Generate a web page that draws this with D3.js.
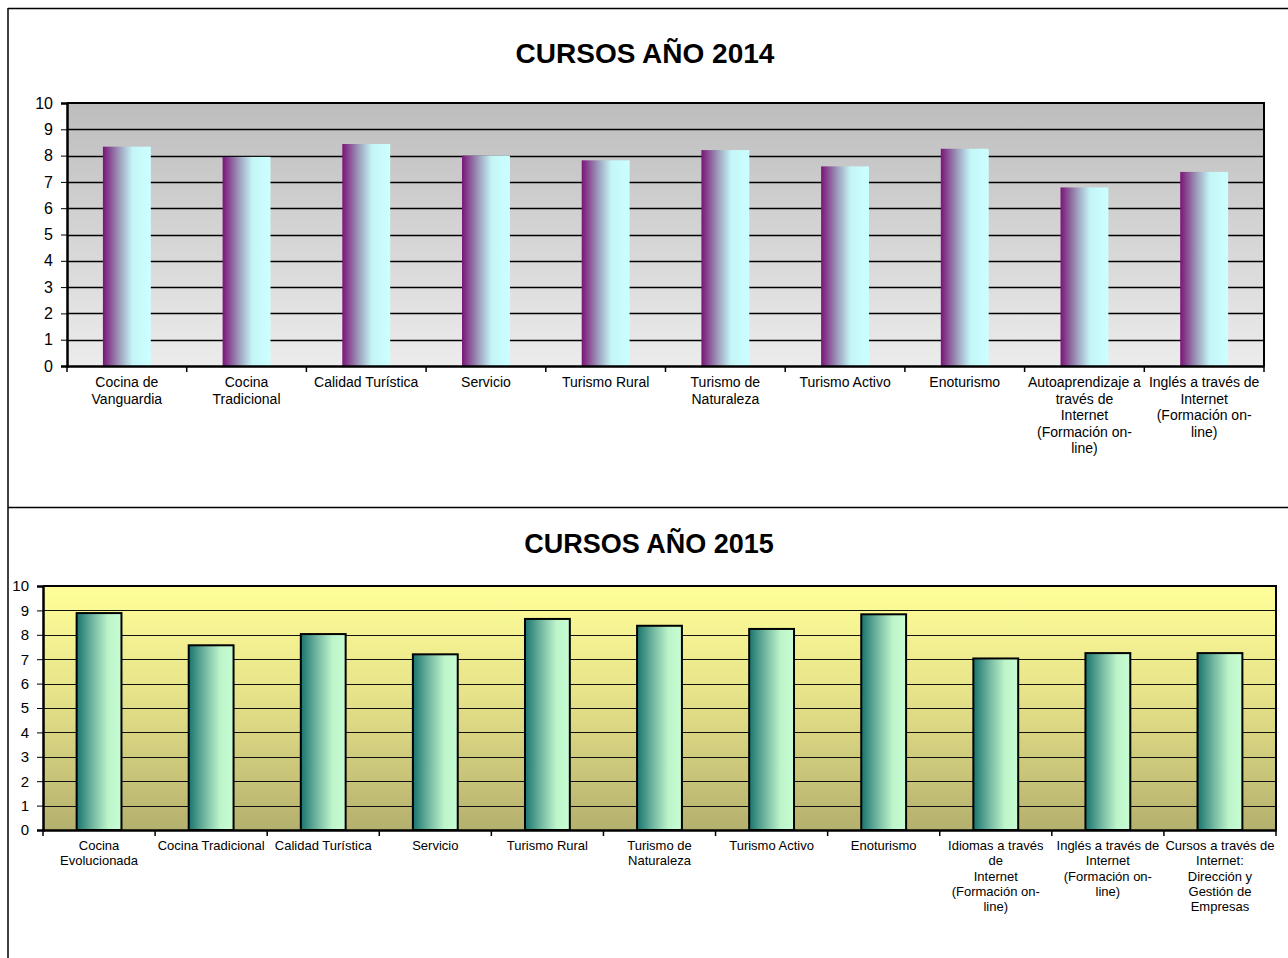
<!DOCTYPE html>
<html>
<head>
<meta charset="utf-8">
<script src="https://cdn.jsdelivr.net/npm/d3@7"></script>
<style>
  body { margin: 0; background: #fff; }
  text { font-family: "Liberation Sans", Arial, sans-serif; }
</style>
</head>
<body>
<svg id="chart" width="1288" height="958"></svg>
<script>
// data
var cats2014 = [
  "Cocina de\nVanguardia",
  "Cocina\nTradicional",
  "Calidad Turística",
  "Servicio",
  "Turismo Rural",
  "Turismo de\nNaturaleza",
  "Turismo Activo",
  "Enoturismo",
  "Autoaprendizaje a\ntravés de\nInternet\n(Formación on-\nline)",
  "Inglés a través de\nInternet\n(Formación on-\nline)"
];
var vals2014 = [8.34, 7.95, 8.44, 8.0, 7.82, 8.21, 7.59, 8.26, 6.79, 7.38];

var cats2015 = [
  "Cocina\nEvolucionada",
  "Cocina Tradicional",
  "Calidad Turística",
  "Servicio",
  "Turismo Rural",
  "Turismo de\nNaturaleza",
  "Turismo Activo",
  "Enoturismo",
  "Idiomas a través\nde\nInternet\n(Formación on-\nline)",
  "Inglés a través de\nInternet\n(Formación on-\nline)",
  "Cursos a través de\nInternet:\nDirección y\nGestión de\nEmpresas"
];
var vals2015 = [8.89, 7.57, 8.03, 7.2, 8.65, 8.37, 8.24, 8.84, 7.03, 7.25, 7.25];

var yTicks = [0, 1, 2, 3, 4, 5, 6, 7, 8, 9, 10];

var svg = d3.select("#chart");
var defs = svg.append("defs");

function linGrad(id, vertical, stops) {
  var g = defs.append("linearGradient").attr("id", id)
    .attr("x1", 0).attr("y1", 0)
    .attr("x2", vertical ? 0 : 1).attr("y2", vertical ? 1 : 0);
  stops.forEach(function (s) {
    g.append("stop").attr("offset", s[0]).attr("stop-color", s[1]);
  });
}

linGrad("bg2014", true, [["0%", "#bdbdbd"], ["100%", "#ececec"]]);
linGrad("bar2014", false, [["0%", "#7a1478"], ["35%", "#9e9fbc"], ["62%", "#c4f6f8"], ["100%", "#ccffff"]]);
linGrad("bg2015", true, [["0%", "#ffff99"], ["45%", "#e6e289"], ["100%", "#b4b06e"]]);
linGrad("bar2015", false, [["0%", "#1a746e"], ["40%", "#7cbfa6"], ["70%", "#bdf4c9"], ["100%", "#c8fdd2"]]);

// outer frame
svg.append("line").attr("x1", 8).attr("x2", 1288).attr("y1", 8.5).attr("y2", 8.5)
  .attr("stroke", "#000").attr("stroke-width", 1.5);
svg.append("line").attr("x1", 8).attr("x2", 8).attr("y1", 8).attr("y2", 958)
  .attr("stroke", "#000").attr("stroke-width", 1.5);
svg.append("line").attr("x1", 8).attr("x2", 1288).attr("y1", 507.5).attr("y2", 507.5)
  .attr("stroke", "#000").attr("stroke-width", 1.5);

function drawChart(opt) {
  var g = svg.append("g");

  var x = d3.scaleBand().domain(d3.range(opt.cats.length))
    .range([opt.left, opt.right]).paddingInner(0.6).paddingOuter(0.3);
  var xb = d3.scaleBand().domain(d3.range(opt.cats.length))
    .range([opt.left, opt.right]);
  var y = d3.scaleLinear().domain([0, 10]).range([opt.bottom, opt.top]);

  g.append("text")
    .attr("x", opt.titleX).attr("y", opt.titleY)
    .attr("text-anchor", "middle")
    .attr("font-size", opt.titleSize).attr("font-weight", "bold")
    .text(opt.title);

  g.append("rect")
    .attr("x", opt.left).attr("y", opt.top)
    .attr("width", opt.right - opt.left).attr("height", opt.bottom - opt.top)
    .attr("fill", "url(#" + opt.bg + ")");

  // gridlines
  g.selectAll(".grid").data(yTicks.slice(1, -1)).enter().append("line")
    .attr("x1", opt.left).attr("x2", opt.right)
    .attr("y1", function (d) { return Math.round(y(d)) + 0.5; })
    .attr("y2", function (d) { return Math.round(y(d)) + 0.5; })
    .attr("stroke", opt.gridColor).attr("stroke-width", opt.gridWidth);

  // bars
  g.selectAll(".bar").data(opt.vals).enter().append("rect")
    .attr("x", function (d, i) { return x(i); })
    .attr("y", function (d) { return y(d); })
    .attr("width", x.bandwidth())
    .attr("height", function (d) { return y(0) - y(d); })
    .attr("fill", "url(#" + opt.bar + ")")
    .attr("stroke", opt.barStroke ? "#000" : "none")
    .attr("stroke-width", 2);

  // plot border top/right
  g.append("path")
    .attr("d", "M" + opt.left + "," + opt.top + "H" + opt.right + "V" + opt.bottom)
    .attr("fill", "none").attr("stroke", "#000").attr("stroke-width", 2);

  // y axis
  var ya = g.append("g").attr("transform", "translate(" + opt.left + ",0)")
    .call(d3.axisLeft(y).tickValues(yTicks).tickSize(6).tickPadding(8));
  ya.select(".domain").attr("stroke", "#000").attr("stroke-width", 2.5);
  ya.selectAll("text").attr("font-size", opt.yFont).attr("fill", "#000")
    .attr("font-family", "Liberation Sans, Arial, sans-serif");

  // x axis
  var xa = g.append("g").attr("transform", "translate(0," + opt.bottom + ")")
    .call(d3.axisBottom(xb).tickSize(0).tickFormat(""));
  xa.select(".domain").attr("stroke", "#000").attr("stroke-width", 2.5);
  xa.selectAll(".tick").remove();

  // x tick marks on band edges
  var edges = d3.range(opt.cats.length + 1).map(function (i) {
    return opt.left + i * xb.step();
  });
  g.selectAll(".xt").data(edges).enter().append("line")
    .attr("x1", function (d) { return d; }).attr("x2", function (d) { return d; })
    .attr("y1", opt.bottom).attr("y2", opt.bottom + 6)
    .attr("stroke", "#000").attr("stroke-width", 1.5);

  // category labels
  g.selectAll(".lab").data(opt.cats).enter().append("text")
    .attr("text-anchor", "middle")
    .attr("font-size", opt.xFont)
    .attr("fill", "#000")
    .each(function (d, i) {
      var t = d3.select(this);
      d.split("\n").forEach(function (line, k) {
        t.append("tspan")
          .attr("x", xb(i) + xb.bandwidth() / 2)
          .attr("y", opt.bottom + opt.labelOffset + k * opt.lineH)
          .text(line);
      });
    });
}

drawChart({
  cats: cats2014, vals: vals2014, title: "CURSOS AÑO 2014",
  titleX: 645, titleY: 63, titleSize: 28,
  left: 67, right: 1264, top: 103, bottom: 366,
  bg: "bg2014", bar: "bar2014", barStroke: false,
  gridColor: "#000", gridWidth: 1.5,
  yFont: 16, xFont: 14, labelOffset: 21, lineH: 16.5
});

drawChart({
  cats: cats2015, vals: vals2015, title: "CURSOS AÑO 2015",
  titleX: 649, titleY: 553, titleSize: 27,
  left: 43, right: 1276, top: 586, bottom: 830,
  bg: "bg2015", bar: "bar2015", barStroke: true,
  gridColor: "#111", gridWidth: 1,
  yFont: 15, xFont: 13, labelOffset: 20, lineH: 15.3
});
</script>
</body>
</html>
